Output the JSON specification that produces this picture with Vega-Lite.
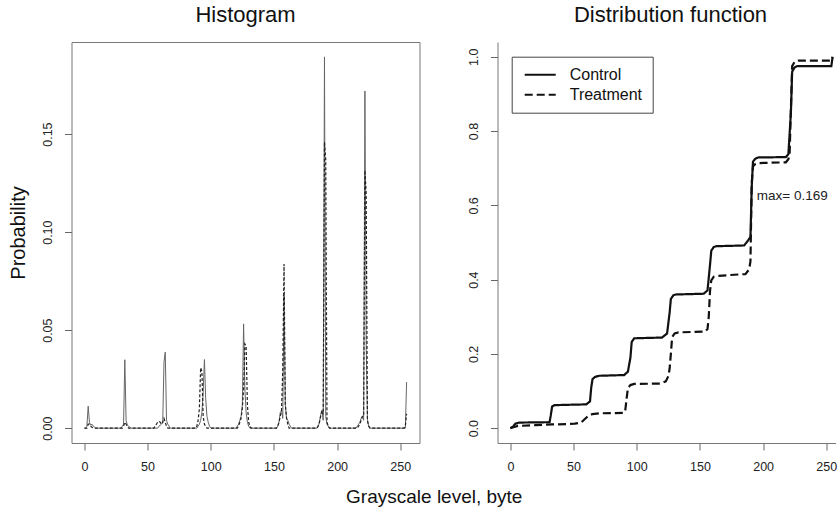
{
  "$schema": "https://vega.github.io/schema/vega-lite/v6.json",
  "padding": {"left": 7.5, "top": 3, "right": 0, "bottom": 0},
  "background": "white",
  "spacing": 46,
  "title": {"text": "Grayscale level, byte", "orient": "bottom", "anchor": "middle", "font": "Liberation Sans", "fontSize": 19, "fontWeight": "normal", "color": "#111", "offset": 14, "dx": 12},
  "config": {
    "font": "Liberation Sans",
    "view": {"stroke": "#777", "strokeWidth": 1},
    "axis": {"domain": false, "grid": false, "ticks": true, "tickColor": "#666", "tickSize": 7, "labelFont": "Liberation Sans", "labelFontSize": 12.5, "labelColor": "#222", "titleFont": "Liberation Sans", "titleFontWeight": "normal", "titleColor": "#111", "labelFlush": false, "labelOverlap": false},
    "axisX": {"labelAngle": 0, "labelPadding": 10.5, "labelBaseline": "top"},
    "axisY": {"labelAngle": -90, "labelAlign": "center", "labelBaseline": "alphabetic", "labelPadding": 13}
  },
  "datasets": {
    "hist": [
      {"series":"Control","level":0,"prob":0},{"series":"Control","level":1,"prob":0},{"series":"Control","level":2,"prob":0.001},{"series":"Control","level":3,"prob":0.0112},{"series":"Control","level":4,"prob":0.003},{"series":"Control","level":5,"prob":0.0015},{"series":"Control","level":6,"prob":0.002},{"series":"Control","level":7,"prob":0.001},{"series":"Control","level":8,"prob":0.0005},{"series":"Control","level":9,"prob":0},
      {"series":"Control","level":29,"prob":0},{"series":"Control","level":30,"prob":0.001},{"series":"Control","level":31,"prob":0.002},{"series":"Control","level":32,"prob":0.0349},{"series":"Control","level":33,"prob":0.004},{"series":"Control","level":34,"prob":0.0015},{"series":"Control","level":35,"prob":0.001},{"series":"Control","level":36,"prob":0.0005},{"series":"Control","level":37,"prob":0},
      {"series":"Control","level":58,"prob":0},{"series":"Control","level":59,"prob":0.001},{"series":"Control","level":60,"prob":0.0015},{"series":"Control","level":61,"prob":0.002},{"series":"Control","level":62,"prob":0.003},{"series":"Control","level":63,"prob":0.0337},{"series":"Control","level":64,"prob":0.0388},{"series":"Control","level":65,"prob":0.004},{"series":"Control","level":66,"prob":0.002},{"series":"Control","level":67,"prob":0.001},{"series":"Control","level":68,"prob":0},
      {"series":"Control","level":89,"prob":0},{"series":"Control","level":90,"prob":0.001},{"series":"Control","level":91,"prob":0.002},{"series":"Control","level":92,"prob":0.004},{"series":"Control","level":93,"prob":0.008},{"series":"Control","level":94,"prob":0.018},{"series":"Control","level":95,"prob":0.035},{"series":"Control","level":96,"prob":0.015},{"series":"Control","level":97,"prob":0.006},{"series":"Control","level":98,"prob":0.003},{"series":"Control","level":99,"prob":0.001},{"series":"Control","level":100,"prob":0},
      {"series":"Control","level":120,"prob":0},{"series":"Control","level":121,"prob":0.001},{"series":"Control","level":122,"prob":0.002},{"series":"Control","level":123,"prob":0.004},{"series":"Control","level":124,"prob":0.006},{"series":"Control","level":125,"prob":0.012},{"series":"Control","level":126,"prob":0.0532},{"series":"Control","level":127,"prob":0.02},{"series":"Control","level":128,"prob":0.008},{"series":"Control","level":129,"prob":0.003},{"series":"Control","level":130,"prob":0.001},{"series":"Control","level":131,"prob":0},
      {"series":"Control","level":152,"prob":0},{"series":"Control","level":153,"prob":0.001},{"series":"Control","level":154,"prob":0.003},{"series":"Control","level":155,"prob":0.008},{"series":"Control","level":156,"prob":0.009},{"series":"Control","level":157,"prob":0.005},{"series":"Control","level":158,"prob":0.068},{"series":"Control","level":159,"prob":0.012},{"series":"Control","level":160,"prob":0.005},{"series":"Control","level":161,"prob":0.004},{"series":"Control","level":162,"prob":0.002},{"series":"Control","level":163,"prob":0.001},{"series":"Control","level":164,"prob":0},
      {"series":"Control","level":184,"prob":0},{"series":"Control","level":185,"prob":0.001},{"series":"Control","level":186,"prob":0.003},{"series":"Control","level":187,"prob":0.007},{"series":"Control","level":188,"prob":0.009},{"series":"Control","level":189,"prob":0.004},{"series":"Control","level":190,"prob":0.1894},{"series":"Control","level":191,"prob":0.006},{"series":"Control","level":192,"prob":0.002},{"series":"Control","level":193,"prob":0.001},{"series":"Control","level":194,"prob":0},
      {"series":"Control","level":215,"prob":0},{"series":"Control","level":216,"prob":0.001},{"series":"Control","level":217,"prob":0.002},{"series":"Control","level":218,"prob":0.003},{"series":"Control","level":219,"prob":0.005},{"series":"Control","level":220,"prob":0.006},{"series":"Control","level":221,"prob":0.004},{"series":"Control","level":222,"prob":0.172},{"series":"Control","level":223,"prob":0.043},{"series":"Control","level":224,"prob":0.004},{"series":"Control","level":225,"prob":0.001},{"series":"Control","level":226,"prob":0},
      {"series":"Control","level":254,"prob":0},{"series":"Control","level":255,"prob":0.0235},
      {"series":"Treatment","level":0,"prob":0},{"series":"Treatment","level":2,"prob":0},{"series":"Treatment","level":3,"prob":0.002},{"series":"Treatment","level":4,"prob":0.002},{"series":"Treatment","level":5,"prob":0.001},{"series":"Treatment","level":6,"prob":0.0005},{"series":"Treatment","level":7,"prob":0},
      {"series":"Treatment","level":30,"prob":0},{"series":"Treatment","level":31,"prob":0.001},{"series":"Treatment","level":32,"prob":0.003},{"series":"Treatment","level":33,"prob":0.002},{"series":"Treatment","level":34,"prob":0.001},{"series":"Treatment","level":35,"prob":0},
      {"series":"Treatment","level":55,"prob":0},{"series":"Treatment","level":56,"prob":0.001},{"series":"Treatment","level":57,"prob":0.002},{"series":"Treatment","level":58,"prob":0.003},{"series":"Treatment","level":59,"prob":0.0035},{"series":"Treatment","level":60,"prob":0.003},{"series":"Treatment","level":61,"prob":0.002},{"series":"Treatment","level":62,"prob":0.003},{"series":"Treatment","level":63,"prob":0.005},{"series":"Treatment","level":64,"prob":0.003},{"series":"Treatment","level":65,"prob":0.001},{"series":"Treatment","level":66,"prob":0},
      {"series":"Treatment","level":88,"prob":0},{"series":"Treatment","level":89,"prob":0.001},{"series":"Treatment","level":90,"prob":0.004},{"series":"Treatment","level":91,"prob":0.01},{"series":"Treatment","level":92,"prob":0.0308},{"series":"Treatment","level":93,"prob":0.029},{"series":"Treatment","level":94,"prob":0.006},{"series":"Treatment","level":95,"prob":0.002},{"series":"Treatment","level":96,"prob":0.001},{"series":"Treatment","level":97,"prob":0},
      {"series":"Treatment","level":121,"prob":0},{"series":"Treatment","level":122,"prob":0.001},{"series":"Treatment","level":123,"prob":0.003},{"series":"Treatment","level":124,"prob":0.005},{"series":"Treatment","level":125,"prob":0.01},{"series":"Treatment","level":126,"prob":0.02},{"series":"Treatment","level":127,"prob":0.043},{"series":"Treatment","level":128,"prob":0.042},{"series":"Treatment","level":129,"prob":0.012},{"series":"Treatment","level":130,"prob":0.003},{"series":"Treatment","level":131,"prob":0.001},{"series":"Treatment","level":132,"prob":0},
      {"series":"Treatment","level":152,"prob":0},{"series":"Treatment","level":153,"prob":0.001},{"series":"Treatment","level":154,"prob":0.003},{"series":"Treatment","level":155,"prob":0.006},{"series":"Treatment","level":156,"prob":0.009},{"series":"Treatment","level":157,"prob":0.03},{"series":"Treatment","level":158,"prob":0.0838},{"series":"Treatment","level":159,"prob":0.012},{"series":"Treatment","level":160,"prob":0.005},{"series":"Treatment","level":161,"prob":0.002},{"series":"Treatment","level":162,"prob":0},
      {"series":"Treatment","level":184,"prob":0},{"series":"Treatment","level":185,"prob":0.001},{"series":"Treatment","level":186,"prob":0.003},{"series":"Treatment","level":187,"prob":0.006},{"series":"Treatment","level":188,"prob":0.009},{"series":"Treatment","level":189,"prob":0.007},{"series":"Treatment","level":190,"prob":0.146},{"series":"Treatment","level":191,"prob":0.137},{"series":"Treatment","level":192,"prob":0.003},{"series":"Treatment","level":193,"prob":0.001},{"series":"Treatment","level":194,"prob":0},
      {"series":"Treatment","level":216,"prob":0},{"series":"Treatment","level":217,"prob":0.001},{"series":"Treatment","level":218,"prob":0.002},{"series":"Treatment","level":219,"prob":0.004},{"series":"Treatment","level":220,"prob":0.006},{"series":"Treatment","level":221,"prob":0.006},{"series":"Treatment","level":222,"prob":0.1315},{"series":"Treatment","level":223,"prob":0.12},{"series":"Treatment","level":224,"prob":0.004},{"series":"Treatment","level":225,"prob":0.001},{"series":"Treatment","level":226,"prob":0},
      {"series":"Treatment","level":253,"prob":0},{"series":"Treatment","level":254,"prob":0.001},{"series":"Treatment","level":255,"prob":0.0073}
    ],
    "cdf": [
      {"series":"Control","level":0,"F":0},{"series":"Control","level":2,"F":0.004},{"series":"Control","level":4,"F":0.012},{"series":"Control","level":7,"F":0.015},{"series":"Control","level":31,"F":0.016},{"series":"Control","level":32,"F":0.035},{"series":"Control","level":33,"F":0.058},{"series":"Control","level":35,"F":0.062},{"series":"Control","level":60,"F":0.064},{"series":"Control","level":63,"F":0.072},{"series":"Control","level":64,"F":0.11},{"series":"Control","level":65,"F":0.132},{"series":"Control","level":67,"F":0.138},{"series":"Control","level":70,"F":0.141},{"series":"Control","level":90,"F":0.143},{"series":"Control","level":93,"F":0.152},{"series":"Control","level":95,"F":0.19},{"series":"Control","level":96,"F":0.232},{"series":"Control","level":98,"F":0.242},{"series":"Control","level":120,"F":0.244},{"series":"Control","level":124,"F":0.255},{"series":"Control","level":126,"F":0.31},{"series":"Control","level":127,"F":0.348},{"series":"Control","level":129,"F":0.358},{"series":"Control","level":131,"F":0.36},{"series":"Control","level":153,"F":0.362},{"series":"Control","level":156,"F":0.371},{"series":"Control","level":158,"F":0.44},{"series":"Control","level":159,"F":0.478},{"series":"Control","level":161,"F":0.488},{"series":"Control","level":163,"F":0.49},{"series":"Control","level":185,"F":0.492},{"series":"Control","level":188,"F":0.505},{"series":"Control","level":190,"F":0.515},{"series":"Control","level":191,"F":0.65},{"series":"Control","level":192,"F":0.718},{"series":"Control","level":194,"F":0.726},{"series":"Control","level":196,"F":0.729},{"series":"Control","level":218,"F":0.73},{"series":"Control","level":220,"F":0.738},{"series":"Control","level":222,"F":0.85},{"series":"Control","level":223,"F":0.96},{"series":"Control","level":225,"F":0.972},{"series":"Control","level":227,"F":0.975},{"series":"Control","level":254,"F":0.975},{"series":"Control","level":255,"F":1.0},
      {"series":"Treatment","level":0,"F":0},{"series":"Treatment","level":3,"F":0.003},{"series":"Treatment","level":6,"F":0.006},{"series":"Treatment","level":20,"F":0.008},{"series":"Treatment","level":33,"F":0.01},{"series":"Treatment","level":45,"F":0.011},{"series":"Treatment","level":51,"F":0.012},{"series":"Treatment","level":56,"F":0.015},{"series":"Treatment","level":60,"F":0.028},{"series":"Treatment","level":62,"F":0.034},{"series":"Treatment","level":65,"F":0.038},{"series":"Treatment","level":70,"F":0.04},{"series":"Treatment","level":90,"F":0.041},{"series":"Treatment","level":91,"F":0.05},{"series":"Treatment","level":92,"F":0.08},{"series":"Treatment","level":93,"F":0.108},{"series":"Treatment","level":95,"F":0.116},{"series":"Treatment","level":98,"F":0.119},{"series":"Treatment","level":119,"F":0.12},{"series":"Treatment","level":123,"F":0.126},{"series":"Treatment","level":125,"F":0.14},{"series":"Treatment","level":126,"F":0.16},{"series":"Treatment","level":127,"F":0.2},{"series":"Treatment","level":128,"F":0.245},{"series":"Treatment","level":130,"F":0.255},{"series":"Treatment","level":133,"F":0.258},{"series":"Treatment","level":154,"F":0.26},{"series":"Treatment","level":156,"F":0.267},{"series":"Treatment","level":157,"F":0.3},{"series":"Treatment","level":158,"F":0.37},{"series":"Treatment","level":159,"F":0.398},{"series":"Treatment","level":161,"F":0.408},{"series":"Treatment","level":163,"F":0.41},{"series":"Treatment","level":186,"F":0.415},{"series":"Treatment","level":189,"F":0.428},{"series":"Treatment","level":190,"F":0.45},{"series":"Treatment","level":191,"F":0.66},{"series":"Treatment","level":192,"F":0.705},{"series":"Treatment","level":194,"F":0.712},{"series":"Treatment","level":197,"F":0.714},{"series":"Treatment","level":218,"F":0.716},{"series":"Treatment","level":220,"F":0.724},{"series":"Treatment","level":221,"F":0.74},{"series":"Treatment","level":222,"F":0.86},{"series":"Treatment","level":223,"F":0.975},{"series":"Treatment","level":225,"F":0.987},{"series":"Treatment","level":228,"F":0.99},{"series":"Treatment","level":254,"F":0.99},{"series":"Treatment","level":255,"F":1.0}
    ],
    "note": [{"label": "max= 0.169", "level": 195, "F": 0.626}]
  },
  "hconcat": [
    {
      "width": 348,
      "height": 401,
      "title": {"text": "Histogram", "font": "Liberation Sans", "fontSize": 22, "fontWeight": "normal", "color": "#111", "baseline": "alphabetic", "offset": -2, "anchor": "middle"},
      "data": {"name": "hist"},
      "encoding": {
        "x": {"field": "level", "type": "quantitative", "scale": {"domain": [-10.2, 265.2], "nice": false, "zero": false}, "axis": {"title": null, "values": [0, 50, 100, 150, 200, 250]}},
        "y": {"field": "prob", "type": "quantitative", "scale": {"domain": [-0.00758, 0.197], "nice": false, "zero": false}, "axis": {"title": "Probability", "titleFontSize": 20, "titleX": -47.2, "titleY": 190.5, "titleAngle": -90, "titleAlign": "center", "titleBaseline": "alphabetic", "values": [0, 0.05, 0.1, 0.15], "format": ".2f"}}
      },
      "layer": [
        {"transform": [{"filter": "datum.series === 'Control'"}], "mark": {"type": "line", "color": "#666", "strokeWidth": 1, "clip": true}},
        {"transform": [{"filter": "datum.series === 'Treatment'"}], "mark": {"type": "line", "color": "#222", "strokeWidth": 1.2, "strokeDash": [3, 2], "clip": true}}
      ]
    },
    {
      "width": 338,
      "height": 401,
      "view": {"stroke": null},
      "title": {"text": "Distribution function", "font": "Liberation Sans", "fontSize": 22, "fontWeight": "normal", "color": "#111", "baseline": "alphabetic", "offset": -2, "anchor": "middle", "dx": 4},
      "layer": [
        {
          "mark": {"type": "rule", "color": "#777", "strokeWidth": 1},
          "encoding": {"y": {"datum": 1.04, "type": "quantitative"}}
        },
        {
          "mark": {"type": "rule", "color": "#777", "strokeWidth": 1},
          "encoding": {"x": {"datum": 190.5, "type": "quantitative"}, "y": {"datum": -0.04, "type": "quantitative"}, "y2": {"datum": 0.72}}
        },
        {
          "data": {"name": "cdf"},
          "mark": {"type": "line", "color": "#111", "strokeWidth": 2.2, "clip": true},
          "encoding": {
            "x": {"field": "level", "type": "quantitative", "scale": {"domain": [-10.2, 257.3], "nice": false, "zero": false}, "axis": {"title": null, "values": [0, 50, 100, 150, 200, 250], "domain": true, "domainColor": "#777"}},
            "y": {"field": "F", "type": "quantitative", "scale": {"domain": [-0.04, 1.04], "nice": false, "zero": false}, "axis": {"title": null, "values": [0, 0.2, 0.4, 0.6, 0.8, 1.0], "format": ".1f", "domain": true, "domainColor": "#777"}},
            "strokeDash": {"field": "series", "type": "nominal", "scale": {"domain": ["Control", "Treatment"], "range": [[1, 0], [8, 4]]},
              "legend": {"title": null, "orient": "none", "legendX": 440.2, "legendY": 14.7, "strokeColor": "#444", "padding": 10, "labelFont": "Liberation Sans", "labelFontSize": 16, "labelColor": "#111", "symbolType": "M-1,0H5.2", "symbolSize": 100, "symbolStrokeWidth": 2, "symbolStrokeColor": "#111", "labelOffset": 32, "rowPadding": 4}}
          }
        },
        {
          "data": {"name": "note"},
          "mark": {"type": "text", "align": "left", "baseline": "middle", "font": "Liberation Sans", "fontSize": 13.5, "color": "#222"},
          "encoding": {"x": {"field": "level", "type": "quantitative"}, "y": {"field": "F", "type": "quantitative"}, "text": {"field": "label"}}
        }
      ]
    }
  ]
}
